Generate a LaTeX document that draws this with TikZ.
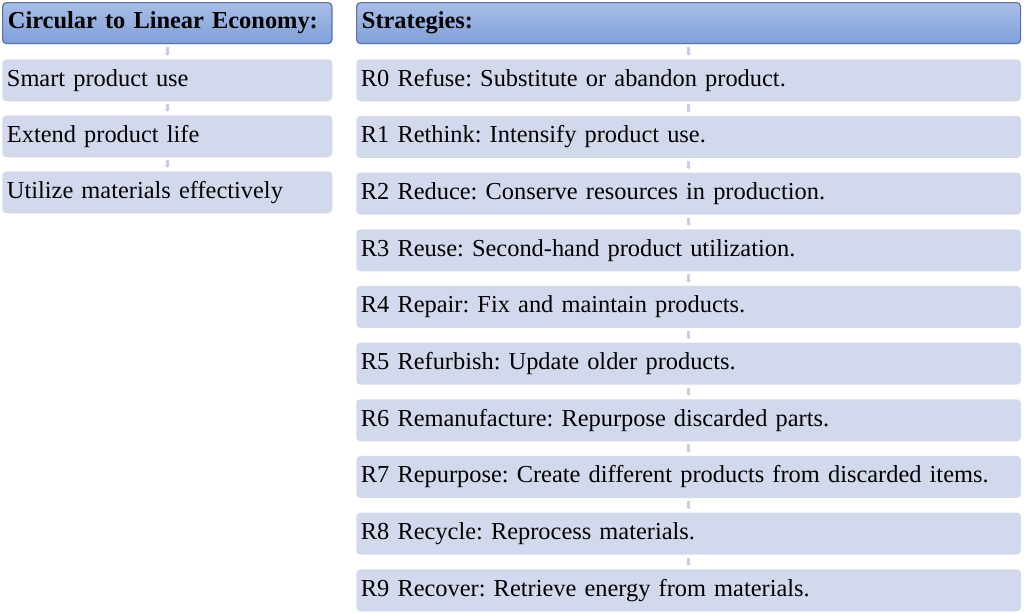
\documentclass[tikz,border=0pt]{standalone}
\usepackage{fontspec}
\setmainfont{Liberation Serif}
\usetikzlibrary{arrows.meta}
\definecolor{hdtop}{HTML}{A9BEE6}
\definecolor{hdbot}{HTML}{7EA0DA}
\definecolor{hdline}{HTML}{5A7099}
\definecolor{itemfill}{HTML}{D3D9EC}
\definecolor{arrowc}{HTML}{C6CFE4}
\tikzset{
  hdr/.style={draw=hdline, line width=0.9pt, rounded corners=3pt, top color=hdtop, bottom color=hdbot,
    minimum height=30.75pt, inner xsep=4pt, inner ysep=0pt, align=left, font=\fontsize{18.3}{20}\selectfont\bfseries\frenchspacing, anchor=north west},
  itm/.style={fill=itemfill, rounded corners=3pt, minimum height=31.5pt, inner xsep=3.5pt, inner ysep=0pt,
    align=left, font=\fontsize{18.3}{20}\selectfont\frenchspacing, anchor=north west},
  conn/.style={draw=arrowc, line width=2.6pt, -{Triangle[width=3.8pt,length=1.6pt]}, shorten <=2pt, shorten >=2.5pt}
}
\begin{document}
\begin{tikzpicture}[x=0.75pt,y=-0.75pt]
\useasboundingbox (0,0) rectangle (1024,612);
% left column
\node[hdr, text width=239pt] (L0) at (2,2) {Circular to Linear Economy:};
\node[itm, text width=240.5pt] (L1) at (2,59) {Smart product use};
\node[itm, text width=240.5pt] (L2) at (2,115) {Extend product life};
\node[itm, text width=240.5pt] (L3) at (2,171) {Utilize materials effectively};
\draw[conn] (L0.south) -- (L1.north);
\draw[conn] (L1.south) -- (L2.north);
\draw[conn] (L2.south) -- (L3.north);
% right column
\node[hdr, text width=490pt] (R) at (356,2) {Strategies:};
\foreach \i/\t in {0/{R0 Refuse: Substitute or abandon product.},
                   1/{R1 Rethink: Intensify product use.},
                   2/{R2 Reduce: Conserve resources in production.},
                   3/{R3 Reuse: Second-hand product utilization.},
                   4/{R4 Repair: Fix and maintain products.},
                   5/{R5 Refurbish: Update older products.},
                   6/{R6 Remanufacture: Repurpose discarded parts.},
                   7/{R7 Repurpose: Create different products from discarded items.},
                   8/{R8 Recycle: Reprocess materials.},
                   9/{R9 Recover: Retrieve energy from materials.}}{
  \node[itm, text width=491.5pt] (R\i) at (356,{59+56.67*\i}) {\t};
}
\draw[conn] (R.south) -- (R0.north);
\foreach \a/\b in {0/1,1/2,2/3,3/4,4/5,5/6,6/7,7/8,8/9}{
  \draw[conn] (R\a.south) -- (R\b.north);
}
\end{tikzpicture}
\end{document}
